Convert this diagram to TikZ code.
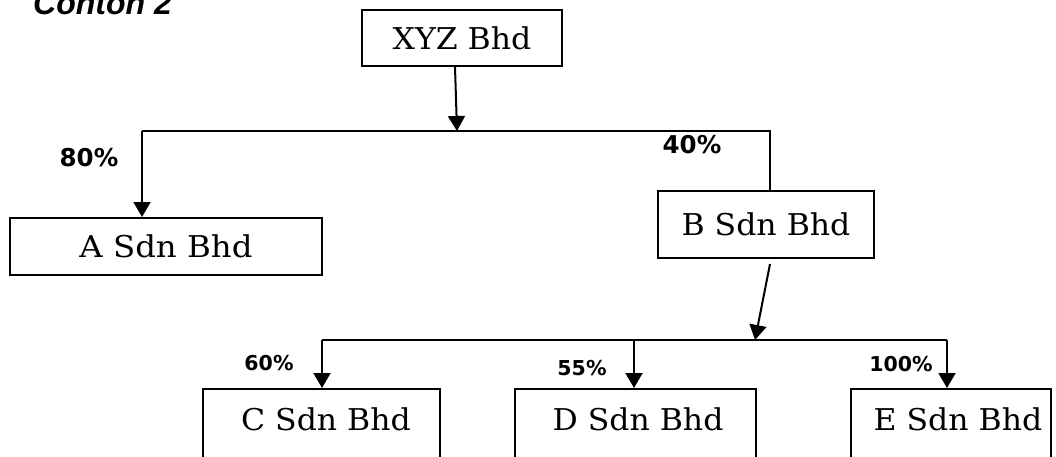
\documentclass[tikz,border=0pt]{standalone}
\usepackage{fontspec}
\usepackage{graphicx}
\usetikzlibrary{arrows.meta}
\newfontfamily\labfont{DejaVu Sans}
\newfontfamily\titfont{Liberation Sans}
\newfontfamily\boxfont{DejaVu Serif}
\newcommand{\widentext}[2]{\scalebox{#1}[1]{#2}}
\begin{document}
\begin{tikzpicture}[x=1pt,y=-1pt,
  box/.style={draw,line width=2pt,inner sep=0pt,font=\boxfont\fontsize{30}{36}\selectfont},
  conn/.style={line width=2pt},
  arr/.style={conn,-{Triangle[width=17pt,length=15pt]}},
  pct/.style={font=\labfont\bfseries\fontsize{24.5}{28}\selectfont,inner sep=0pt},
  spct/.style={font=\labfont\bfseries\fontsize{20.5}{24}\selectfont,inner sep=0pt},
  bname/.style={font=\boxfont\fontsize{30}{36}\selectfont,inner sep=0pt,anchor=base}]
\clip (0,0) rectangle (1056,456);
\fill[white] (0,0) rectangle (1056,456);
% title
\node[anchor=base west,inner sep=0pt,font=\titfont\bfseries\itshape\fontsize{32}{36}\selectfont] (title) at (33,14) {Contoh 2};
% boxes
\node[box,minimum width=200pt,minimum height=56pt] (XYZ) at (462,38) {\widentext{1.05}{XYZ Bhd}};
\node[box,minimum width=312pt,minimum height=57pt] (A) at (166,246.5) {\widentext{1.08}{A Sdn Bhd}};
\node[box,minimum width=216pt,minimum height=67pt] (B) at (766,224.5) {\widentext{1.05}{B Sdn Bhd}};
\node[box,anchor=north west,minimum width=237pt,minimum height=100pt] (C) at (202,388) {};
\node[box,anchor=north west,minimum width=241pt,minimum height=100pt] (D) at (514,388) {};
\node[box,anchor=north west,minimum width=200pt,minimum height=100pt] (E) at (850,388) {};
\node[bname] (Ct) at (326,430) {\widentext{1.05}{C Sdn Bhd}};
\node[bname] (Dt) at (638,430) {\widentext{1.05}{D Sdn Bhd}};
\node[bname] (Et) at (958,430) {\widentext{1.05}{E Sdn Bhd}};
% junction coordinates
\coordinate (j1) at (457,131);
\coordinate (aL) at (142,131);
\coordinate (bR) at (770,131);
\coordinate (j2) at (755,340);
\coordinate (cL) at (322,340);
\coordinate (dT) at (634,340);
\coordinate (eR) at (947,340);
% connectors
\draw[arr] ([xshift=-7pt]XYZ.south) -- (j1);
\draw[conn] (B.north -| bR) -- (bR) -- (aL);
\draw[arr] (aL) -- (aL |- A.north);
\draw[arr] ([xshift=4pt,yshift=-5pt]B.south) -- (j2);
\draw[conn] (cL) -- (eR);
\draw[arr] (cL) -- (cL |- C.north);
\draw[arr] (dT) -- (dT |- D.north);
\draw[arr] (eR) -- (eR |- E.north);
% labels
\node[pct] (p80) at (89,158) {80\%};
\node[pct] (p40) at (692,145) {40\%};
\node[spct] (p60) at (269,363) {60\%};
\node[spct] (p55) at (582,368) {55\%};
\node[spct] (p100) at (901,364) {100\%};
\end{tikzpicture}
\end{document}
